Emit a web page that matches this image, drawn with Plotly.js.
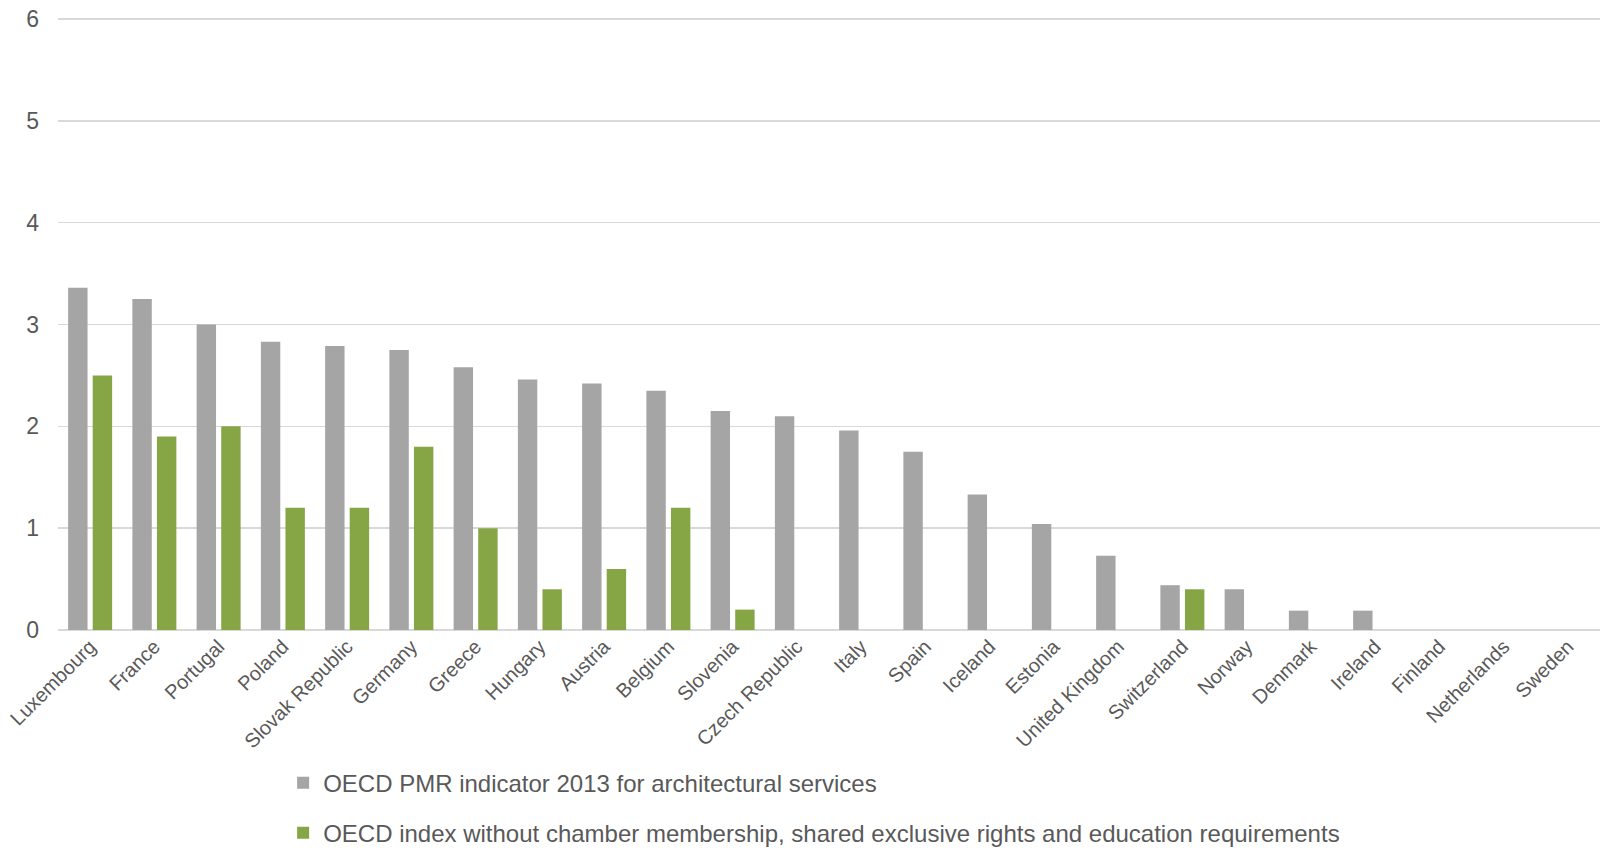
<!DOCTYPE html>
<html>
<head>
<meta charset="utf-8">
<script src="https://cdn.plot.ly/plotly-3.0.1.min.js"></script>
<style>
html,body{margin:0;padding:0;background:#fff;}
#chart{width:1600px;height:851px;}
</style>
</head>
<body>
<div id="chart"></div>
<script>
const countries = ["Luxembourg","France","Portugal","Poland","Slovak Republic","Germany","Greece","Hungary","Austria","Belgium","Slovenia","Czech Republic","Italy","Spain","Iceland","Estonia","United Kingdom","Switzerland","Norway","Denmark","Ireland","Finland","Netherlands","Sweden"];
const pmr2013 = [3.36,3.25,3.0,2.83,2.79,2.75,2.58,2.46,2.42,2.35,2.15,2.10,1.96,1.75,1.33,1.04,0.73,0.44,0.40,0.19,0.19,0,0,0];
const indexWithout = [2.5,1.9,2.0,1.2,1.2,1.8,1.0,0.4,0.6,1.2,0.2,null,null,null,null,null,null,0.4,null,null,null,null,null,null];
const seriesNames = ["OECD PMR indicator 2013 for architectural services","OECD index without chamber membership, shared exclusive rights and education requirements"];
const yTicks = [0,1,2,3,4,5,6];

const font = "'Liberation Sans', Arial, sans-serif";
const traces = [
  {type:"bar", x:countries, y:pmr2013, name:seriesNames[0], legendgroup:"a",
   marker:{color:"#A5A5A5"}, hoverinfo:"x+y"},
  {type:"bar", x:countries, y:indexWithout, name:seriesNames[1], legendgroup:"b",
   marker:{color:"#86A646"}, hoverinfo:"x+y"}
];
const layout = {
  width:1600, height:851,
  margin:{l:58, r:0, t:17, b:221, autoexpand:false},
  paper_bgcolor:"#fff", plot_bgcolor:"#fff",
  barmode:"group", bargap:0.235, bargroupgap:0.21,
  font:{family:font, color:"#595959"},
  xaxis:{type:"category", tickangle:-45, tickfont:{size:20, color:"#595959", family:font},
         showgrid:false, showline:false, ticks:"", automargin:false},
  yaxis:{range:[0,6.02], tickvals:yTicks, showgrid:true, gridcolor:"#D9D9D9", gridwidth:1.5,
         zeroline:true, zerolinecolor:"#D9D9D9", zerolinewidth:2,
         tickfont:{size:23, color:"#595959", family:font}, ticks:"", ticklabelstandoff:18, automargin:false},
  showlegend:true,
  legend:{orientation:"v", x:0.146, xanchor:"left", y:-0.213, yanchor:"top",
          font:{size:24, color:"#595959", family:font}, tracegroupgap:16, traceorder:"grouped",
          bgcolor:"rgba(0,0,0,0)", borderwidth:0}
};
Plotly.newPlot("chart", traces, layout, {displayModeBar:false, staticPlot:true});
</script>
</body>
</html>
